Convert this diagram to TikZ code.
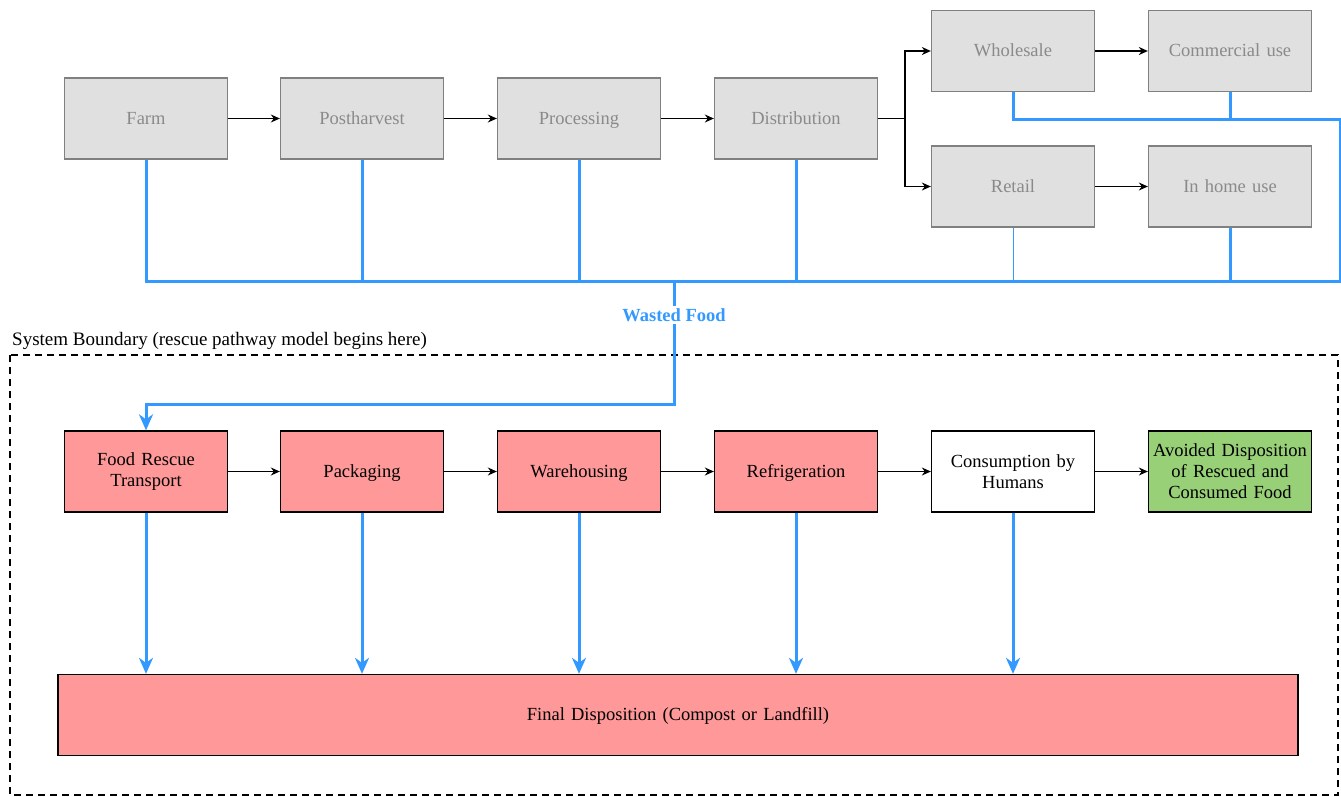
\documentclass[tikz,border=0pt]{standalone}
\usepackage{fontspec}
\setmainfont{Liberation Serif}
\usetikzlibrary{arrows.meta}
\definecolor{greyfill}{HTML}{E0E0E0}
\definecolor{greyline}{HTML}{808080}
\definecolor{greytext}{HTML}{8A8A8A}
\definecolor{redfill}{HTML}{FF9999}
\definecolor{greenfill}{HTML}{97D077}
\definecolor{wasteblue}{HTML}{3399FF}
\begin{document}
\begin{tikzpicture}[x=1pt,y=-1pt,
  every node/.style={font=\fontsize{18.5}{21}\selectfont},
  box/.style={draw, line width=1.3pt, minimum width=163pt, minimum height=81pt,
    inner sep=2pt, align=center, text width=159pt},
  oneline/.style={text height=14pt, text depth=3pt},
  chainbox/.style={box, oneline, fill=greyfill, draw=greyline, text=greytext},
  rescuebox/.style={box, fill=redfill, draw=black},
  flow/.style={line width=1.3pt, -{Stealth[length=9pt,width=8pt]}},
  waste/.style={draw=wasteblue, line width=3pt},
  wastethin/.style={draw=wasteblue, line width=1pt},
  wastearrow/.style={waste, -{Stealth[length=16pt,width=14pt,inset=5pt]}}
]
\useasboundingbox (0,0) rectangle (1341,796);

% supply chain
\node[chainbox] (farm)  at (146,118.5) {Farm};
\node[chainbox] (post)  at (362,118.5) {Postharvest};
\node[chainbox] (proc)  at (579,118.5) {Processing};
\node[chainbox] (dist)  at (796,118.5) {Distribution};
\node[chainbox] (whole) at (1013,51)   {Wholesale};
\node[chainbox] (comm)  at (1230,51)   {Commercial use};
\node[chainbox] (retail) at (1013,186.5) {Retail};
\node[chainbox] (home)  at (1230,186.5) {In home use};

\draw[flow] (farm) -- (post);
\draw[flow] (post) -- (proc);
\draw[flow] (proc) -- (dist);
\coordinate (split) at (905,118.5);
\draw[line width=1.3pt] (dist.east) -- (split);
\draw[flow] (split) |- (whole.west);
\draw[flow] (split) |- (retail.west);
\draw[flow] (whole) -- (comm);
\draw[flow] (retail) -- (home);

% wasted food collection
\coordinate (busL) at (146,281);
\coordinate (busR) at (1340,281);
\coordinate (upR) at (1340,119);
\coordinate (tap) at (674,281);
\draw[waste] (farm.south) -- (busL) -- (busR) -- (upR) -- (whole.south |- upR) -- (whole.south);
\draw[waste] (comm.south) -- (comm.south |- upR);
\draw[waste] (post.south) -- (post.south |- busL);
\draw[waste] (proc.south) -- (proc.south |- busL);
\draw[waste] (dist.south) -- (dist.south |- busL);
\draw[waste] (home.south) -- (home.south |- busL);
\draw[wastethin] (retail.south) -- (retail.south |- busL);

% system boundary
\draw[line width=1.5pt, dashed, dash pattern=on 7pt off 5pt] (10,355) rectangle (1338,795);
\node[anchor=west, font=\fontsize{19}{22}\selectfont, inner sep=0pt] (bound) at (12,341)
  {System Boundary (rescue pathway model begins here)};

% rescue pathway
\node[rescuebox] (trans) at (146,471.5) {Food Rescue\\Transport};
\node[rescuebox, oneline] (pack)  at (362,471.5) {Packaging};
\node[rescuebox, oneline] (ware)  at (579,471.5) {Warehousing};
\node[rescuebox, oneline] (refr)  at (796,471.5) {Refrigeration};
\node[box, fill=white] (cons) at (1013,471.5) {Consumption by\\Humans};
\node[box, fill=greenfill, inner sep=0pt] (avoid) at (1230,471.5)
  {Avoided Disposition\\of Rescued and\\Consumed Food};
\node[rescuebox, oneline, minimum width=1240pt, text width=1230pt] (final) at (678,715)
  {Final Disposition (Compost or Landfill)};

\node[text=wasteblue, font=\bfseries\fontsize{18.5}{21}\selectfont, fill=white,
  inner sep=2pt] (wlabel) at (674,315) {Wasted Food};
\coordinate (bend) at (674,404);
\draw[waste] (tap) -- (wlabel.north);
\draw[wastearrow] (wlabel.south) -- (bend) -| (trans.north);

\draw[flow] (trans) -- (pack);
\draw[flow] (pack) -- (ware);
\draw[flow] (ware) -- (refr);
\draw[flow] (refr) -- (cons);
\draw[flow] (cons) -- (avoid);

\foreach \n in {trans,pack,ware,refr,cons}
  \draw[wastearrow] (\n.south) -- (\n.south |- final.north);
\end{tikzpicture}
\end{document}
